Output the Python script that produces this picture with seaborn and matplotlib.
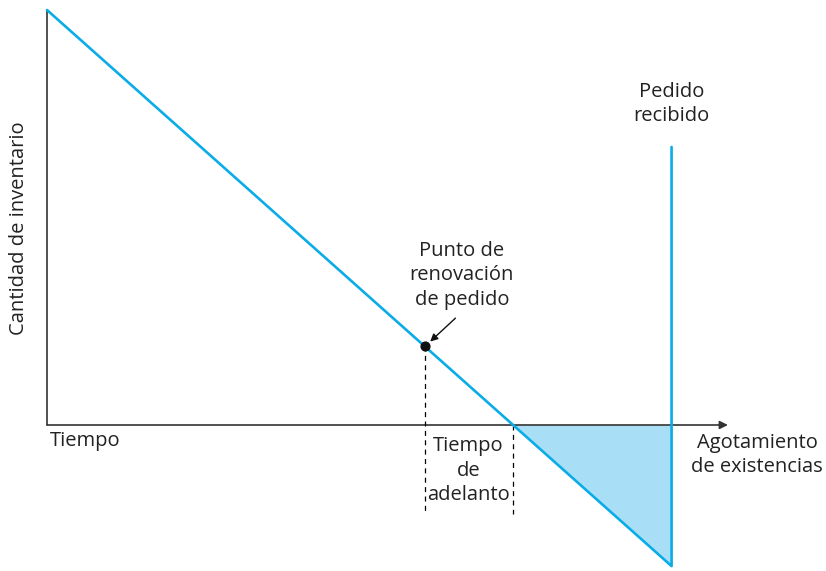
import numpy as np
import pandas as pd
import matplotlib
matplotlib.use("Agg")
import matplotlib.pyplot as plt
import seaborn as sns

# inventory path (time units, inventory units)
tiempo = [0.0, 10.75, 10.75]
inventario = [100.0, -34.0, 67.0]
t_agotamiento = 8.02      # stock runs out
t_reorden = 6.5           # reorder point
inv_reorden = 18.95
t_eje_fin = 11.72         # end of the time axis arrow

linea = "#0AACE8"
relleno = "#A9DFF6"
gris = "#333333"

sns.set_style("white")
plt.rcParams["font.family"] = ["Open Sans", "DejaVu Sans"]

fig = plt.figure(figsize=(8.26, 5.71), dpi=100)
ax = fig.add_axes([0, 0, 1, 1])

df = pd.DataFrame({"tiempo": tiempo, "inventario": inventario})

# shortage triangle
t_fill = np.array([t_agotamiento, tiempo[1]])
inv_fill = np.array([0.0, inventario[1]])
ax.fill_between(t_fill, inv_fill, 0, color=relleno, lw=0, zorder=1)

# axes with arrow
ax.plot([0, 0], [0, 100], color=gris, lw=1.2, zorder=2)
ax.annotate("", xy=(t_eje_fin, 0), xytext=(0, 0),
            arrowprops=dict(arrowstyle="-|>", color=gris, lw=1.2,
                            mutation_scale=12, shrinkA=0, shrinkB=0), zorder=2)

# dashed guides for lead time
ax.plot([t_reorden, t_reorden], [inv_reorden, -21.5], color="black", lw=0.9,
        ls=(0, (4, 3.5)), zorder=2)
ax.plot([t_agotamiento, t_agotamiento], [0, -21.5], color="black", lw=0.9,
        ls=(0, (4, 3.5)), zorder=2)

sns.lineplot(data=df, x="tiempo", y="inventario", sort=False, estimator=None,
             color=linea, lw=1.9, ax=ax, zorder=3)

ax.scatter([t_reorden], [inv_reorden], s=40, color="#111111", zorder=4)
ax.annotate("", xy=(t_reorden + 0.06, inv_reorden + 0.7),
            xytext=(t_reorden + 0.53, inv_reorden + 6.8),
            arrowprops=dict(arrowstyle="-|>", color="#111111", lw=1.0,
                            mutation_scale=11, shrinkA=0, shrinkB=2), zorder=4)

fs = 14.5
tc = "#222222"
ls_ = 1.3
ax.text(-0.48, 47.5, "Cantidad de inventario", rotation=90, ha="center",
        va="center", fontsize=fs, color=tc)
ax.text(0.05, -3.8, "Tiempo", ha="left", va="center", fontsize=fs, color=tc)
ax.text(7.25, -11.0, "Tiempo\nde\nadelanto", ha="center", va="center",
        fontsize=fs, color=tc, linespacing=ls_)
ax.text(12.22, -7.2, "Agotamiento\nde existencias", ha="center", va="center",
        fontsize=fs, color=tc, linespacing=ls_)
ax.text(10.75, 77.3, "Pedido\nrecibido", ha="center", va="center",
        fontsize=fs, color=tc, linespacing=ls_)
ax.text(7.14, 36.1, "Punto de\nrenovación\nde pedido", ha="center",
        va="center", fontsize=fs, color=tc, linespacing=ls_)

ax.set_xlim(-47 / 58.1, (826 - 47) / 58.1)
ax.set_ylim(-(571 - 425) / 4.15, 425 / 4.15)
ax.axis("off")

fig.savefig("out.png", dpi=100)
